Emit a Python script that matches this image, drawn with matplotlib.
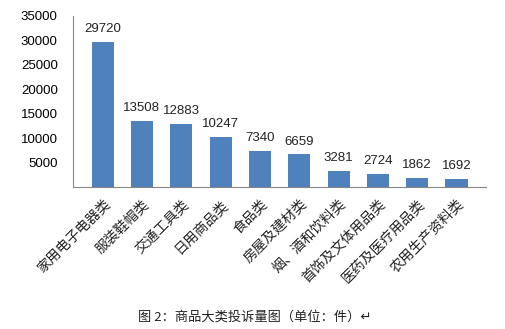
import matplotlib.pyplot as plt
import numpy as np

plt.rcParams['font.family'] = ['Noto Sans CJK SC', 'DejaVu Sans']

categories = ['家用电子电器类', '服装鞋帽类', '交通工具类', '日用商品类', '食品类',
              '房屋及建材类', '烟、酒和饮料类', '首饰及文体用品类', '医药及医疗用品类', '农用生产资料类']
counts = [29720, 13508, 12883, 10247, 7340, 6659, 3281, 2724, 1862, 1692]
yticks = [5000, 10000, 15000, 20000, 25000, 30000, 35000]

fig = plt.figure(figsize=(5.05, 3.29), dpi=100)
ax = fig.add_axes([0.1446, 0.4316, 0.8178, 0.5198])

x = np.arange(len(categories))
ax.bar(x, counts, width=0.56, color='#4F81BD')

num_font = ['Liberation Sans', 'DejaVu Sans']
for xi, v in zip(x, counts):
    ax.annotate(str(v), (xi, v), xytext=(0, 5), textcoords='offset points',
                ha='center', va='bottom', fontsize=9.5, color='#222222', family=num_font)

ax.set_xlim(-0.75, len(categories) - 0.25)
ax.set_ylim(0, 35000)
ax.set_yticks(yticks)
ax.set_yticklabels([str(t) for t in yticks], fontsize=9.5, family=num_font)
ax.tick_params(axis='y', length=0, pad=11)
ax.tick_params(axis='x', length=0, pad=7)
ax.set_xticks(x)
ax.set_xticklabels(categories, rotation=45, ha='right', rotation_mode='anchor',
                   fontsize=10, color='#222222')

for side in ('top', 'right'):
    ax.spines[side].set_visible(False)
for side in ('left', 'bottom'):
    ax.spines[side].set_color('#868686')
    ax.spines[side].set_linewidth(0.8)

fig.text(0.505, 0.035, '图 2：商品大类投诉量图（单位：件）↵', ha='center', va='center',
         fontsize=9.5, color='#222222')

fig.savefig('out.png', dpi=100)
